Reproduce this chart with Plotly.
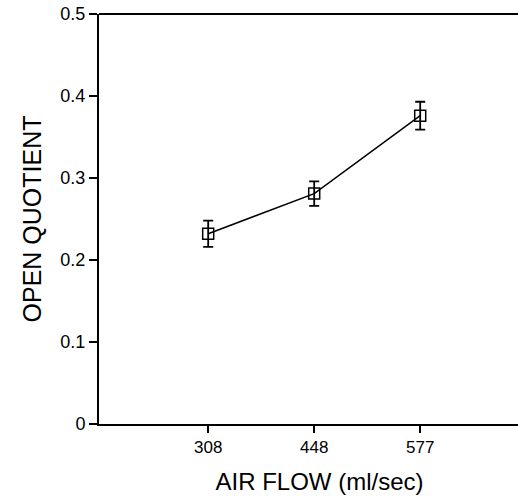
import plotly.graph_objects as go

air_flow = ["308", "448", "577"]
open_quotient = [0.232, 0.281, 0.376]
err = [0.016, 0.015, 0.017]
y_ticks = [0, 0.1, 0.2, 0.3, 0.4, 0.5]
y_ticktext = ["0", "0.1", "0.2", "0.3", "0.4", "0.5"]

xpos = list(range(len(air_flow)))

fig = go.Figure()
fig.add_trace(go.Scatter(
    x=xpos, y=open_quotient,
    mode="lines+markers",
    line=dict(color="black", width=1.5),
    marker=dict(symbol="square-open", size=11, color="black", line=dict(width=1.5)),
    error_y=dict(type="data", array=err, visible=True, color="black", thickness=1.8, width=5),
    showlegend=False,
    cliponaxis=False,
))

font = "Liberation Sans, Arial, sans-serif"
fig.update_layout(
    width=540, height=502,
    margin=dict(l=99, r=0, t=14, b=78),
    plot_bgcolor="white", paper_bgcolor="white",
    font=dict(family=font, color="black"),
    shapes=[dict(type="line", xref="paper", yref="paper", x0=0, x1=1, y0=1, y1=1,
                 line=dict(color="black", width=2))],
)
fig.update_xaxes(
    range=[-1.03, 3.13],
    tickvals=xpos, ticktext=air_flow,
    ticks="outside", ticklen=7, tickwidth=2, tickcolor="black",
    tickfont=dict(size=17),
    showline=True, linecolor="black", linewidth=2, mirror=False,
    showgrid=False, zeroline=False,
    title=dict(text="AIR FLOW (ml/sec)", font=dict(size=24), standoff=17),
)
fig.update_yaxes(
    range=[0, 0.5],
    tickvals=y_ticks, ticktext=y_ticktext,
    ticks="outside", ticklen=8, tickwidth=2, tickcolor="black",
    tickfont=dict(size=18),
    showline=True, linecolor="black", linewidth=2, mirror=False,
    showgrid=False, zeroline=False,
    title=dict(text="OPEN QUOTIENT", font=dict(size=25), standoff=12),
)
fig.write_html(
    "out.html",
    config={"displayModeBar": False, "staticPlot": True},
    post_script="document.body.style.margin='0';document.body.style.overflow='hidden';document.documentElement.style.overflow='hidden';",
)
